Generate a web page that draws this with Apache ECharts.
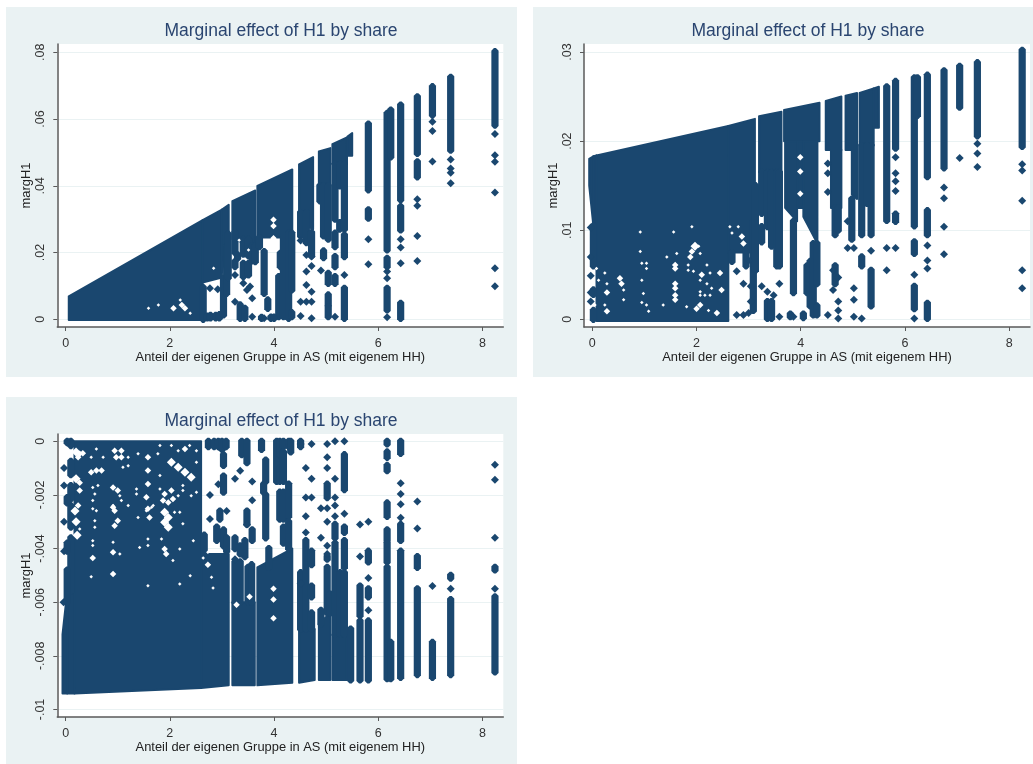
<!DOCTYPE html>
<html><head><meta charset="utf-8">
<script src="https://cdn.jsdelivr.net/npm/echarts@6/dist/echarts.min.js"></script>
<style>html,body{margin:0;padding:0;background:#fff}#c{width:1033px;height:764px}</style>
</head><body><div id="c"></div>
<script>
const titleText = 'Marginal effect of H1 by share';
const xTitle = 'Anteil der eigenen Gruppe in AS (mit eigenem HH)';
const yTitle = 'margH1';
const xTicks = [0, 2, 4, 6, 8];
const yTicks1 = ['0', '.02', '.04', '.06', '.08'];
const yTicks2 = ['0', '.01', '.02', '.03'];
const yTicks3 = ['-.01', '-.008', '-.006', '-.004', '-.002', '0'];

// dense masses: [xLeft, xRight, lowLeft, highLeft, lowRight, highRight]
const bands1 = [
 [.06,2.63,-.0002,.0069,-.0002,.0297],[2.63,3.00,.0110,.0297,.0125,.0329],[3.00,3.13,.0140,.0329,.0250,.0343],
 [3.20,3.64,.0240,.0354,.0220,.0386],[3.68,4.35,.0245,.0400,.0245,.0449],[4.48,4.75,.0290,.0464,.0270,.0486],
 [4.86,5.08,.0400,.0503,.0400,.0513],[5.12,5.40,.0465,.0525,.0465,.0545],[5.41,5.50,.0490,.0548,.0490,.0558]
];
const bands2 = [
 [-.06,.02,.0150,.0180,.0105,.0183],[.02,.08,.0105,.0183,.0105,.0184],[.08,2.61,-.0002,.0184,-.0002,.0217],[2.61,3.12,.0075,.0217,.0075,.0225],
 [3.20,3.63,.0165,.0228,.0165,.0233],[3.68,4.36,.0200,.0235,.0200,.0243],[3.70,3.93,.0125,.0200,.0110,.0200],
 [3.93,4.05,.0125,.0200,.0125,.0200],[4.05,4.32,.0115,.0200,.0085,.0200],[4.48,4.78,.0190,.0245,.0190,.0250],
 [4.58,4.78,.0125,.0190,.0125,.0190],[4.86,5.08,.0190,.0251,.0190,.0254],[4.98,5.08,.0140,.0190,.0135,.0190],
 [5.13,5.40,.0195,.0254,.0195,.0259],[5.40,5.50,.0215,.0259,.0215,.0261]
];
const bands3 = [
 [-.06,.03,-.0094,-.0072,-.0094,-.0056],[.03,.17,-.0094,-.0056,-.0094,-.0056],[.17,2.60,-.0094,.0000,-.0092,.0000],
 [2.60,3.13,-.0092,-.0042,-.0091,-.0042],[3.20,3.63,-.0091,-.0060,-.0091,-.0060],[3.68,4.35,-.0091,-.0047,-.0090,-.0040],
 [4.48,4.78,-.0090,-.0070,-.0089,-.0070],[4.86,5.08,-.0089,-.0068,-.0089,-.0064],[5.12,5.40,-.0089,-.0072,-.0089,-.0072]
];

// stacks of markers at one x: [x, low1, high1, low2, high2, ...]
const columns1 = [
 [2.64,0,.0095],[2.72,.0004,.0010],[2.78,.0004,.0012],[2.88,.0004,.0012],[2.95,.0004,.0014],
 [3.03,.0013,.0123],[3.09,.0078,.0218],[3.12,.0125,.0255],
 [3.25,.0158,.0173,.0200,.0260],[3.30,.0183,.0193],[3.41,.0128,.0168,.0195,.0240],[3.51,.0133,.0168,.0190,.0240],[3.58,.0175,.0220],[3.64,.0173,.0220],
 [3.35,.0003,.0043],[3.44,.0003,.0033],
 [3.72,.0218,.0245],[3.81,.0078,.0203],[3.88,.0033,.0058],[3.76,.0003,.0006],
 [4.09,.0008,.0128],[4.12,.0158,.0198],[4.18,.0008,.0245],[4.28,.0003,.0258],[4.34,.0088,.0258,.0008,.0020],
 [3.94,.0003,.0007],[4.00,.0003,.0007],
 [4.51,.0250,.0320],[4.62,.0230,.0320],[4.72,.0190,.0260],
 [4.88,.0355,.0400],[4.95,.0250,.0400,.0185,.0205],[5.04,.0240,.0400,.0108,.0138,.0043,.0073,.0008,.0038],
 [5.17,.0300,.0465,.0218,.0258,.0158,.0188,.0108,.0128],[5.26,.0400,.0465,.0270,.0290],
 [5.35,.0270,.0465,.0188,.0253,.0003,.0093],
 [5.81,.0388,.0585,.0303,.0328],[6.17,.0208,.0617,.0158,.0183,.0028,.0093],[6.24,.0487,.0627],
 [6.43,.0358,.0642,.0268,.0338,.0003,.0048],[6.75,.0497,.0667,.0427,.0472],[7.04,.0612,.0697],
 [7.39,.0507,.0725],[8.24,.0582,.0802]
];
const points1 = [
 [2.77,.0093],[2.92,.0090],[3.25,.0133],[3.54,.0098],[3.48,.0088],[3.41,.0108],[3.25,.0053],[3.58,.0063],[3.58,.0008],
 [3.81,.0003],[4.51,.0236],[4.62,.0143],[4.72,.0160],[4.62,.0103],[4.72,.0083],[4.51,.0053],[4.62,.0053],
 [4.72,.0053],[4.51,.0010],[4.72,.0003],[4.62,.0193],[4.72,.0188],[4.90,.0146],[5.17,.0008],[5.35,.0133],
 [5.81,.0240],[5.81,.0165],[6.17,.0143],[6.17,.0123],[6.17,.0006],[6.43,.0240],[6.43,.0215],[6.43,.0168],
 [6.75,.0360],[6.75,.0340],[6.75,.0250],[6.75,.0175],[7.04,.0592],[7.04,.0564],[7.04,.0473],
 [7.39,.0479],[7.39,.0452],[7.39,.0439],[7.39,.0408],[8.24,.0555],[8.24,.0492],[8.24,.0472],[8.24,.0380],[8.24,.0153],[8.24,.0099]
];
const columns2 = [
 [.02,0,.0010,.0028,.0033,.0060,.0105],[2.68,.0065,.0075],[2.95,.0060,.0076],
 [3.09,.0010,.0110],[3.13,.0055,.0150],
 [3.25,.0119,.0165,.0087,.0104],[3.36,.0104,.0165,.0001,.0020],[3.44,.0082,.0165,.0001,.0020],[3.54,.0060,.0165],[3.59,.0060,.0165],
 [3.86,.0030,.0110],[3.80,.0003,.0006],[4.12,.0030,.0060],[4.18,.0015,.0065],
 [4.24,.0005,.0085],[4.31,.0040,.0085,.0005,.0015],[4.05,.0002,.0006],
 [4.66,.0095,.0125,.0040,.0060],[4.72,.0100,.0125],[4.98,.0090,.0135],[5.17,.0095,.0195,.0060,.0070],[5.35,.0095,.0195,.0015,.0055],[5.27,.0130,.0195],
 [5.65,.0111,.0261],[5.82,.0110,.0118,.0192,.0267],[6.18,.0105,.0271,.0074,.0087,.0012,.0037],[6.24,.0229,.0271],
 [6.43,.0160,.0274,.0095,.0122,.0001,.0018],[6.75,.0170,.0279],[7.05,.0238,.0284],[7.39,.0206,.0288],[8.25,.0194,.0302]
];
const points2 = [
 [-.03,.0103],[-.03,.0070],[-.03,.0049],[-.03,.0030],[-.03,.0020],[2.77,.0054],[2.90,.0040],[3.04,.0037],[3.04,.0020],
 [3.00,.0066],[2.77,.0005],[2.90,.0005],[3.00,.0007],
 [3.25,.0037],[3.36,.0031],[3.48,.0027],
 [3.59,.0040],[3.59,.0003],[3.86,.0003],[4.52,.0175],[4.52,.0164],[4.52,.0143],[4.52,.0005],[4.62,.0055],[4.72,.0047],
 [4.62,.0033],[4.72,.0020],[4.72,.0010],[4.72,.0001],[4.90,.0110],[4.90,.0080],[5.02,.0080],[5.02,.0035],[5.02,.0022],[5.02,.0003],
 [5.17,.0001],[5.35,.0077],[5.65,.0080],[5.65,.0055],[5.82,.0182],[5.82,.0164],[5.82,.0155],[5.82,.0144],[5.82,.0080],
 [6.18,.0050],[6.18,.0001],[6.43,.0083],[6.43,.0066],[6.43,.0057],[6.75,.0148],[6.75,.0136],[6.75,.0104],[6.75,.0073],
 [7.05,.0181],[7.39,.0197],[7.39,.0186],[7.39,.0171],[8.25,.0174],[8.25,.0167],[8.25,.0133],[8.25,.0055],[8.25,.0035]
];
const columns3 = [
 [.10,0,-.00016,-.00075,-.00125,-.00165,-.00215,-.0024,-.0032,-.0036,-.0056],[.03,0,-.00005,-.0021,-.0023,-.0038,-.0041,-.0048,-.0060],
 [2.74,0,-.0002],[2.85,0,-.0002],[2.93,0,-.0002],[3.00,0,-.0003],[3.08,0,-.0002],[3.03,-.0005,-.0009,-.0013,-.0019,-.0033,-.0039],
 [2.90,-.0032,-.0037],[2.96,-.0026,-.0029],[3.09,-.0036,-.0041],[2.66,-.0035,-.0042],
 [3.38,0,-.0005],[3.48,0,-.0008],[3.48,-.0026,-.0031],[3.58,-.0033,-.0037],[3.25,-.0036,-.0040],[3.44,-.0037,-.0043],[3.35,-.0039,-.0042],
 [3.25,-.0045,-.0060],[3.35,-.0045,-.0060],[3.50,-.0047,-.0060],[3.57,-.0046,-.0060],
 [3.76,0,-.0003],[3.84,-.0007,-.0015,-.0020,-.0036],[3.80,-.0016,-.0019],
 [4.05,0,-.0015],[4.11,0,-.0005,-.0010,-.0015,-.0019,-.0029],[4.18,0,-.0002,-.0004,-.0015,-.0019,-.0029,-.0032,-.0038],
 [4.28,0,-.0002,-.0016,-.0028,-.0030,-.0040],[4.32,0,-.0004],[3.90,-.0040,-.0047],
 [4.51,0,-.0002,-.0049,-.0070],[4.61,-.0037,-.0070],[4.72,-.0041,-.0046,-.0054,-.0058,-.0064,-.0070],
 [5.02,-.0016,-.0021,-.0047,-.0064,-.0043,-.0044],[4.90,-.0063,-.0068],[5.08,-.0057,-.0064],
 [5.17,-.0031,-.0036,-.0038,-.0072],[5.27,-.0049,-.0072],[5.35,-.0005,-.0018,-.0032,-.0034,-.0037,-.0047,-.0049,-.0072],
 [5.47,-.0070,-.0089],[5.65,-.0054,-.0065,-.0067,-.0089],[5.81,-.0041,-.0045,-.0055,-.0058,-.0067,-.0089],
 [6.17,0,-.0001,-.0004,-.0006,-.0009,-.0011,-.0023,-.0028,-.0033,-.0037,-.0038,-.0045,-.0047,-.00885],
 [6.24,-.0075,-.00885],[6.43,0,-.00045,-.0031,-.0037,-.0041,-.0088],[6.75,-.0043,-.0047,-.0055,-.0087],
 [7.04,-.0075,-.0088],[7.39,-.0050,-.0051,-.0059,-.0087],[8.24,-.0047,-.0048,-.0058,-.0086]
];
const points3 = [
 [-.03,-.0010],[-.03,-.00165],[-.03,-.0030],[-.03,-.0041],[-.04,-.0060],[2.77,-.0020],[2.77,-.0029],[2.93,-.0016],[3.09,-.0026],
 [3.25,-.0014],[3.35,-.0011],[3.58,-.0015],[3.58,-.0022],[3.48,-.0031],[3.25,-.0044],
 [4.51,-.0053],[4.61,-.0010],[4.61,-.0021],[4.61,-.0028],[4.61,-.0034],[4.72,-.0001],[4.72,-.0014],[4.72,-.0021],
 [4.51,-.0001],[4.90,-.0025],[4.90,-.0036],[5.02,-.0001],[5.02,-.0006],[5.02,-.0010],[5.02,-.0025],[5.02,-.0030],[5.02,-.0039],[5.02,-.0042],
 [5.17,0],[5.17,-.0014],[5.17,-.0021],[5.17,-.0024],[5.17,-.0028],[5.35,0],[5.35,-.0027],
 [5.65,-.0031],[5.65,-.0043],[5.81,-.0030],[5.81,-.0051],[5.81,-.0063],
 [6.43,-.00157],[6.43,-.00197],[6.43,-.00235],[6.43,-.00285],[6.75,-.00225],[6.75,-.00325],[7.04,-.0054],[7.39,-.0055],
 [8.24,-.00088],[8.24,-.00144],[8.24,-.0036],[8.24,-.0055]
];

// places inside a mass where no observation falls
const holesBig1 = [];
const holesMid1 = [[2.07,.0033],[2.23,.0043],[2.29,.0033],[3.99,.0280],[3.99,.0298],[3.99,.0243]];
const holesSmall1 = [[1.78,.0043],[2.20,.0058],[2.39,.0018],[1.59,.0033],[2.84,.0153],[3.33,.0237],[3.51,.0208]];
const holesBig2 = [[1.97,.0082]];
const holesMid2 = [[3.99,.0182],[3.99,.0166],[3.99,.0141],[2.87,.0093],[2.90,.0085],[1.91,.0076],[1.88,.0070],[1.59,.0061],[1.59,.0057],[2.45,.0052],[2.10,.0050],
 [.53,.0046],[.56,.0040],[1.59,.0040],[1.59,.0035],[2.48,.0033],[.28,.0030],[1.59,.0027],[1.59,.0022],[2.07,.0016],[2.00,.0012],[2.39,.0007],[.28,.0009]];
const holesSmall2 = [[.92,.0098],[1.56,.0098],[1.91,.0104],[2.64,.0104],[2.80,.0104],[2.68,.0097],[.92,.0076],[2.04,.0082],[2.07,.0074],
 [.95,.0063],[1.04,.0063],[1.04,.0057],[1.84,.0061],[1.84,.0055],[1.94,.0054],[2.20,.0061],[2.26,.0052],[2.07,.0044],[.24,.0052],[.08,.0057],
 [2.20,.0040],[2.29,.0035],[2.07,.0031],[2.16,.0027],[2.26,.0027],[.98,.0029],[.60,.0022],[2.07,.0027],[1.36,.0016],[.95,.0019],[1.04,.0016],
 [1.08,.0009],[1.81,.0014],[2.23,.0010],[.24,.0016],[.05,.0016],[.12,.0044],[.28,.0040],[.60,.0033],[1.43,.0070],[1.62,.0074],[.95,.0044]];
const holesBig3 = [[2.03,-.00078],[2.16,-.00097],[2.29,-.00116],[2.41,-.00134],[1.90,-.00265],[1.97,-.00284],[1.90,-.00302],[1.97,-.00321],
 [.20,-.0014],[.18,-.0026],[.20,-.0030],[.22,-.0035],[.20,-.0004]];
const holesMid3 = [[3.99,-.0055],[3.99,-.0059],[3.99,-.0066],[.24,-.0006],[.94,-.00035],[1.07,-.00035],[.97,-.0006],[1.07,-.0006],[1.58,-.0006],[1.58,-.00109],[1.58,-.00159],[1.55,-.00209],
 [2.29,-.00029],[.59,-.00109],[.69,-.00109],[.49,-.00116],[.91,-.00172],[1.00,-.00184],[1.90,-.00197],[2.03,-.00184],[2.06,-.00215],[1.87,-.00221],
 [1.97,-.00228],[.91,-.00246],[.94,-.00259],[1.58,-.00252],[1.61,-.00284],[1.00,-.00296],[.94,-.00315],[1.90,-.00402],[1.93,-.0042],[.91,-.00414],
 [.52,-.00435],[.91,-.00495],[.27,-.00047],[.33,-.00045],[.27,-.00184],[.24,-.0024],[.27,-.00155],[3.28,-.0061],[3.53,-.0058],[2.73,-.0046]];
const holesSmall3 = [[.49,-.0006],[.72,-.0006],[.59,-.00029],[1.20,-.0006],[1.39,-.00047],[1.77,-.00047],[2.03,-.00016],[1.81,-.00016],[2.16,-.00035],
 [2.38,-.00016],[2.51,-.00035],[2.51,-.00078],[1.81,-.00128],[1.10,-.00097],[1.20,-.00091],[.52,-.00172],[.62,-.00165],[.56,-.00197],[.52,-.00221],
 [1.04,-.00203],[1.36,-.00178],[1.36,-.00197],[1.81,-.00178],[2.25,-.00165],[2.25,-.00184],[2.41,-.00203],[2.51,-.0019],[2.16,-.00203],
 [.91,-.0024],[.52,-.00252],[.59,-.00259],[1.07,-.00221],[1.20,-.0024],[1.65,-.00246],[1.68,-.0024],[1.55,-.00259],[2.19,-.00265],[2.09,-.00265],
 [.56,-.00296],[.56,-.00321],[1.39,-.00284],[2.25,-.00308],[.27,-.00327],[.52,-.00371],[.52,-.00389],[.91,-.00377],[1.58,-.00364],[1.84,-.00364],
 [2.45,-.00371],[1.42,-.00396],[1.58,-.00389],[1.04,-.0042],[2.19,-.00402],[2.06,-.00445],[.49,-.00505],[2.39,-.00501],[2.80,-.00507],[1.58,-.00539],
 [2.19,-.00532],[2.83,-.00547],[2.64,-.00435],[2.73,-.00414]];

const NAVY = '#1a476f', BG = '#eaf2f3', AXIS = '#5a5a5a', FONT = 'Liberation Sans, Arial, sans-serif';
const R = 3.6, C = 1;

function expand(cols) {
  const out = [];
  cols.forEach(c => { for (let i = 1; i + 1 < c.length; i += 2) out.push([c[0], Math.min(c[i], c[i+1]), Math.max(c[i], c[i+1])]); });
  return out;
}
function stackItem(p, api) {
  const a = api.coord([api.value(0), api.value(2)]), b = api.coord([api.value(0), api.value(1)]);
  return { type:'polygon', silent:true, style:{fill:NAVY}, shape:{points:[
    [a[0]-C,a[1]-R],[a[0]+C,a[1]-R],[a[0]+R,a[1]-C],[b[0]+R,b[1]+C],[b[0]+C,b[1]+R],[b[0]-C,b[1]+R],[b[0]-R,b[1]+C],[a[0]-R,a[1]-C]]} };
}
function bandItem(p, api) {
  const pts = [api.coord([api.value(0), api.value(3)]), api.coord([api.value(1), api.value(5)]), api.coord([api.value(1), api.value(4)]), api.coord([api.value(0), api.value(2)])];
  return { type:'polygon', silent:true, shape:{points:pts}, style:{fill:NAVY, stroke:NAVY, lineWidth:2, lineJoin:'round'} };
}
function holeSeries(i, data, size) {
  return { type:'scatter', name:'holes', xAxisIndex:i, yAxisIndex:i, symbol:'diamond', symbolSize:size, itemStyle:{color:'#ffffff',opacity:1}, data:data, silent:true, z:3 };
}

const panels = [
 { grid:{left:57.3,top:44,width:446,height:283}, yMin:-.0023, yMax:.0825, ticks:yTicks1, step:.02, first:0, bands:bands1, cols:columns1, pts:points1, holes:[holesBig1,holesMid1,holesSmall1], tx:276, ty:17 },
 { grid:{left:584,top:44,width:446,height:283}, yMin:-.00086, yMax:.0309, ticks:yTicks2, step:.01, first:0, bands:bands2, cols:columns2, pts:points2, holes:[holesBig2,holesMid2,holesSmall2], tx:803, ty:17 },
 { grid:{left:57.3,top:434,width:446,height:283}, yMin:-.01028, yMax:.00027, ticks:yTicks3, step:.002, first:-.01, bands:bands3, cols:columns3, pts:points3, holes:[holesBig3,holesMid3,holesSmall3], tx:276, ty:407 }
];

const option = {
  animation:false, backgroundColor:'#ffffff',
  graphic:[
   {type:'rect',shape:{x:6,y:7,width:511,height:370},style:{fill:BG},z:-10},
   {type:'rect',shape:{x:533,y:7,width:500,height:370},style:{fill:BG},z:-10},
   {type:'rect',shape:{x:6,y:397,width:511,height:367},style:{fill:BG},z:-10}
  ],
  title:[], grid:[], xAxis:[], yAxis:[], series:[]
};
panels.forEach((P,i) => {
  option.title.push({ text:titleText, left:P.tx, top:P.ty, textAlign:'center', textStyle:{fontFamily:FONT,fontSize:17.5,fontWeight:'normal',color:'#2a4570'} });
  option.grid.push(Object.assign({ show:true, backgroundColor:'#fff', borderWidth:0 }, P.grid));
  option.xAxis.push({ gridIndex:i, type:'value', min:-.16, max:8.4,
    axisLine:{show:true,onZero:false,lineStyle:{color:AXIS,width:1.5}}, axisTick:{show:true,length:4,customValues:xTicks,lineStyle:{color:AXIS}},
    axisLabel:{customValues:xTicks,color:'#333',fontFamily:FONT,fontSize:12.5,margin:10},
    splitLine:{show:false}, name:xTitle, nameLocation:'middle', nameGap:18, nameTextStyle:{color:'#222',fontFamily:FONT,fontSize:12.9} });
  const yVals = P.ticks.map((t,k)=>+(P.first+k*P.step).toFixed(4));
  option.yAxis.push({ gridIndex:i, type:'value', min:P.yMin, max:P.yMax,
    axisLine:{show:true,onZero:false,lineStyle:{color:AXIS,width:1.5}}, axisTick:{show:true,length:4,customValues:yVals,lineStyle:{color:AXIS}},
    axisLabel:{customValues:yVals,rotate:90,color:'#333',fontFamily:FONT,fontSize:12.5,margin:10,align:'center',verticalAlign:'bottom',
      formatter:v=>{const k=yVals.findIndex(t=>Math.abs(t-v)<1e-7);return k>=0?P.ticks[k]:'';}},
    splitLine:{show:true,lineStyle:{color:BG,width:1},customValues:yVals},
    name:yTitle, nameLocation:'middle', nameRotate:90, nameGap:20, nameTextStyle:{color:'#222',fontFamily:FONT,fontSize:12.9} });
  option.series.push(
   { type:'custom', name:'mass', xAxisIndex:i, yAxisIndex:i, coordinateSystem:'cartesian2d', renderItem:bandItem, clip:false, data:P.bands, encode:{x:[0,1],y:[2,3,4,5]}, silent:true, z:2 },
   { type:'custom', name:'stacks', xAxisIndex:i, yAxisIndex:i, coordinateSystem:'cartesian2d', renderItem:stackItem, clip:false, data:expand(P.cols), encode:{x:0,y:[1,2]}, silent:true, z:2 },
   holeSeries(i,P.holes[0],9), holeSeries(i,P.holes[1],6.5), holeSeries(i,P.holes[2],3.5),
   { type:'scatter', name:'points', xAxisIndex:i, yAxisIndex:i, symbol:'diamond', symbolSize:8, itemStyle:{color:NAVY,opacity:1}, data:P.pts, silent:true, z:4 }
  );
});
echarts.init(document.getElementById('c'),null,{renderer:'canvas'}).setOption(option);
</script></body></html>
